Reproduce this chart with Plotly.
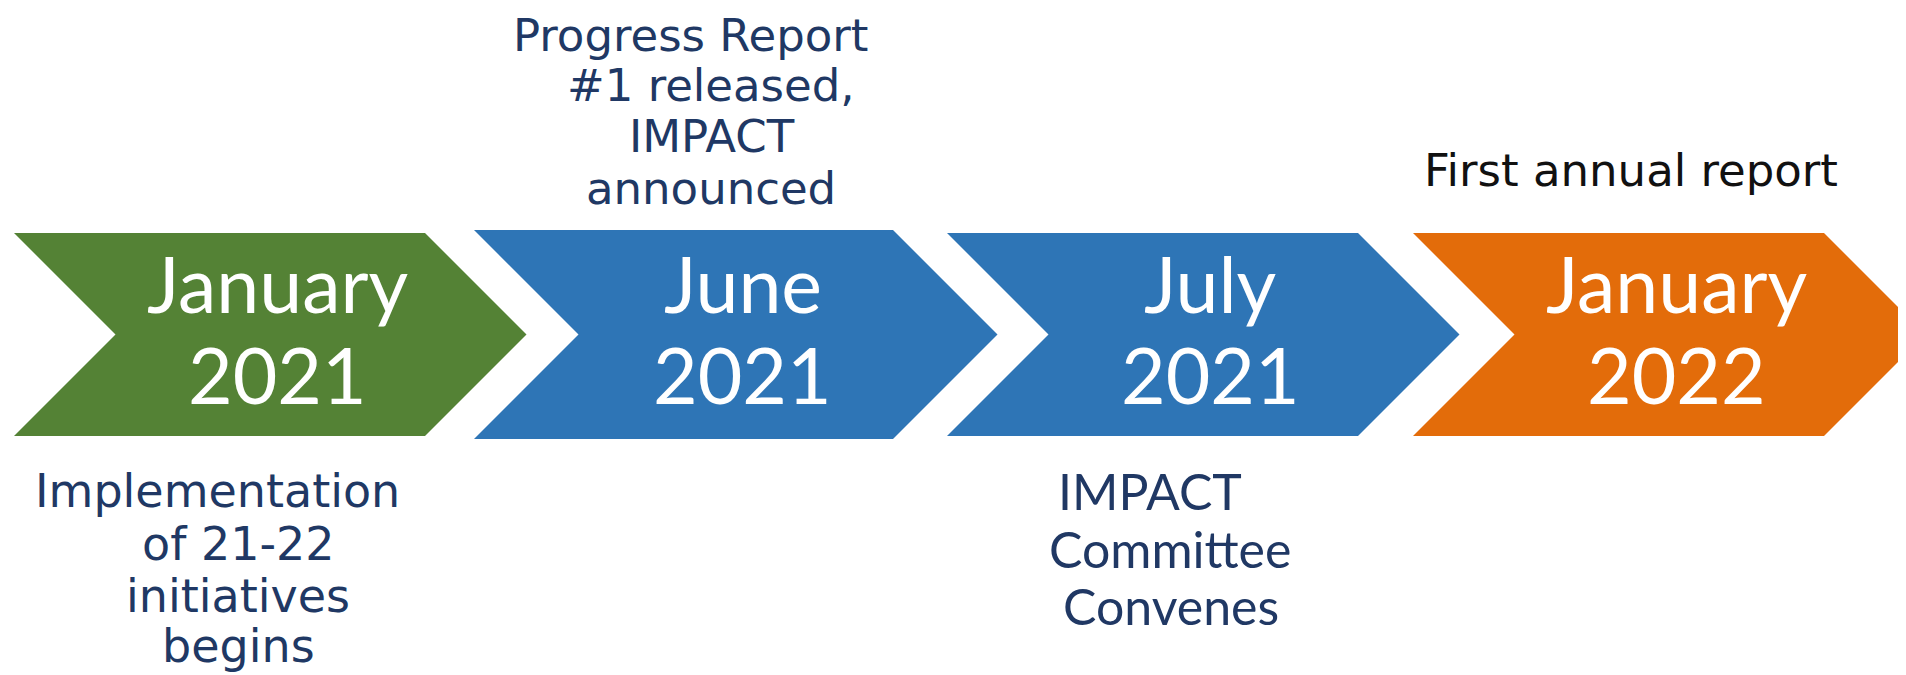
import plotly.graph_objects as go

# ---------------- data ----------------
months = ["January", "June", "July", "January"]
years = ["2021", "2021", "2021", "2022"]
chevron_colors = ["#548235", "#2E75B6", "#2E75B6", "#E36C0A"]

above_lines = [
    [],
    ["Progress Report", "#1 released,", "IMPACT", "announced"],
    [],
    ["First annual report"],
]
below_lines = [
    ["Implementation", "of 21-22", "initiatives", "begins"],
    [],
    ["IMPACT", "Committee", "Convenes"],
    [],
]

# ---------------- layout geometry (pixels) ----------------
W, H = 1906, 675
DX, DY = -7, -8
chev_left = [13, 473, 946, 1412]
chev_topright = [424, 892, 1357, 1823]
chev_top = [233, 230, 233, 233]
chev_bottom = [436, 439, 436, 436]
month_base, year_base = 313, 404

# per-line text placement (center x, baseline y)
above_x = [[], [690, 710, 711, 710], [], [1630]]
above_base = [[], [51, 101, 152, 204], [], [186]]
below_x = [[216, 237, 237, 237], [], [1149, 1169, 1170], []]
below_base = [[507, 560, 612, 662], [], [510, 568, 625], []]

GOTHIC = "DejaVu Sans"
G_OFF = 0.346
CAL = "Lato"
C_OFF = 0.387
NAVY = "#203864"

fig = go.Figure()

for i in range(len(months)):
    l, r = chev_left[i] + DX, chev_topright[i] + DX
    t, b = chev_top[i] + DY, chev_bottom[i] + DY
    d = (b - t) / 2
    m = (t + b) / 2
    xs = [l, r, r + d, r, l, l + d, l]
    ys = [t, t, m, b, b, m, t]
    fig.add_trace(go.Scatter(x=xs, y=ys, fill="toself", fillcolor=chevron_colors[i],
                             mode="lines", line=dict(width=0, color=chevron_colors[i]),
                             hoverinfo="skip", showlegend=False))
    cx = (l + r + d) / 2 + 7
    fs = 77
    off = C_OFF * fs
    fig.add_annotation(x=cx, y=month_base + DY - off, text=months[i], showarrow=False,
                       xanchor="center", yanchor="middle",
                       font=dict(family=CAL, size=fs, color="white"))
    fig.add_annotation(x=cx, y=year_base + DY - off, text=years[i], showarrow=False,
                       xanchor="center", yanchor="middle",
                       font=dict(family=CAL, size=fs, color="white"))

for i in range(len(months)):
    for j, line in enumerate(above_lines[i]):
        fs = 45
        col = NAVY if i == 1 else "#111111"
        fig.add_annotation(x=above_x[i][j] + DX, y=above_base[i][j] + DY - G_OFF * fs, text=line,
                           showarrow=False, xanchor="center", yanchor="middle",
                           font=dict(family=GOTHIC, size=fs, color=col))
    for j, line in enumerate(below_lines[i]):
        if i == 0:
            fs, fam, off = 46, GOTHIC, G_OFF * 46
        else:
            fs, fam, off = 50, CAL, C_OFF * 50
        fig.add_annotation(x=below_x[i][j] + DX, y=below_base[i][j] + DY - off, text=line,
                           showarrow=False, xanchor="center", yanchor="middle",
                           font=dict(family=fam, size=fs, color=NAVY))

fig.update_layout(
    width=W, height=H,
    margin=dict(l=0, r=0, t=0, b=0),
    paper_bgcolor="white", plot_bgcolor="white",
    xaxis=dict(range=[0, W], visible=False, fixedrange=True),
    yaxis=dict(range=[H, 0], visible=False, fixedrange=True),
)

fig.write_html("out.html", config={"displayModeBar": False})
